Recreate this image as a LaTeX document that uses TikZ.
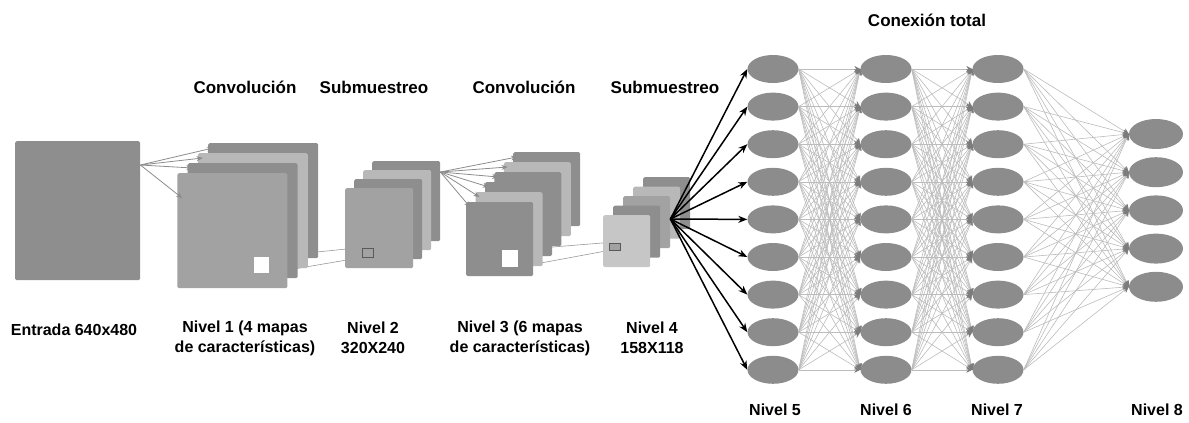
\documentclass[tikz,border=0pt]{standalone}
\usepackage{fontspec}
\setmainfont{Liberation Sans}
\usetikzlibrary{shapes.geometric,arrows.meta,positioning}

\definecolor{mapdark}{HTML}{8E8E8E}
\definecolor{mapmid}{HTML}{A2A2A2}
\definecolor{maplight}{HTML}{B8B8B8}
\definecolor{mappale}{HTML}{C6C6C6}
\definecolor{neuron}{HTML}{8C8C8C}
\definecolor{wire}{HTML}{BCBCBC}
\definecolor{wiretip}{HTML}{7C7C7C}

\pgfdeclarelayer{background}
\pgfsetlayers{background,main}

\tikzset{
  mapa/.style={draw=none, inner sep=0pt, anchor=north west, rounded corners=1.5pt},
  ventana/.style={fill=white, inner sep=0pt},
  marco/.style={draw=black!65, fill=mapmid, line width=1pt, inner sep=0pt},
  neurona/.style={ellipse, fill=neuron, inner sep=0pt, minimum width=51, minimum height=28},
  salida/.style={neurona, minimum width=54, minimum height=30},
  flecha/.style={draw=black!45, line width=0.8pt, -{Stealth[length=6pt,width=5pt]}},
  enlace/.style={draw=black!40, line width=0.6pt},
  flechanegra/.style={draw=black, line width=1.5pt, -{Stealth[length=9pt,width=7pt]}},
  sinapsis/.style={draw=wire, line width=0.6pt, -{Stealth[length=6pt,width=6pt,color=wiretip]}},
  titulo/.style={font=\bfseries\fontsize{17}{20}\selectfont},
  etiqueta/.style={font=\bfseries\fontsize{16}{20}\selectfont, align=center}
}

\begin{document}
\begin{tikzpicture}[x=1pt, y=-1pt]
  \useasboundingbox (0,0) rectangle (1189,423);

  % entrada
  \node[mapa, fill=mapdark, minimum width=125, minimum height=139] (entrada) at (15,141) {};

  % nivel 1: 4 mapas
  \foreach \k/\c in {0/mapdark,1/maplight,2/mapdark,3/mapmid}
    \node[mapa, fill=\c, minimum width=110, minimum height=115] (n1-\k) at ({208-10.3*\k},{143+10*\k}) {};
  \node[ventana, minimum width=15, minimum height=16] (v1) at (261.5,265) {};

  % nivel 2: submuestreo
  \foreach \k/\c in {0/mapdark,1/maplight,2/mapdark,3/mapmid}
    \node[mapa, fill=\c, minimum width=68, minimum height=80] (n2-\k) at ({372-9*\k},{161+9*\k}) {};
  \node[marco, minimum width=11, minimum height=9] (s2) at (367.5,252.5) {};

  % nivel 3: 6 mapas
  \foreach \k/\c in {0/mapdark,1/maplight,2/mapdark,3/mapdark,4/maplight,5/mapdark}
    \node[mapa, fill=\c, minimum width=67, minimum height=74] (n3-\k) at ({513-9.4*\k},{152+10*\k}) {};
  \node[ventana, minimum width=16, minimum height=17] (v3) at (510,258.5) {};

  % nivel 4: submuestreo
  \foreach \k/\c in {0/mapdark,1/maplight,2/mapmid,3/mapdark,4/mappale}
    \node[mapa, fill=\c, minimum width=47, minimum height=52] (n4-\k) at ({643-10*\k},{177+9.5*\k}) {};
  \node[marco, minimum width=11, minimum height=7] (s4) at (614.5,246.5) {};

  % ventanas entre niveles (por detras)
  \begin{pgfonlayer}{background}
    \draw[enlace] (v1.north east) -- (s2.north west);
    \draw[enlace] (v1.south east) -- (s2.south west);
    \draw[enlace] (v3.north east) -- (s4.north west);
    \draw[enlace] (v3.south east) -- (s4.south west);
  \end{pgfonlayer}

  % convolucion 1
  \coordinate (e-out) at ([yshift=-24pt]entrada.north east);
  \foreach \k/\dy in {0/-5,1/-5,2/-5,3/-25}
    \draw[flecha] (e-out) -- ([shift={(5pt,\dy pt)}]n1-\k.north west);

  % convolucion 2
  \coordinate (n2-out) at ([yshift=-11pt]n2-0.north east);
  \foreach \k in {0,...,5}
    \draw[flecha] (n2-out) -- ([shift={(4pt,-5pt)}]n3-\k.north west);

  % conexion total
  \foreach \i in {0,...,8} {
    \node[neurona] (n5-\i) at (773,{69+37.6*\i}) {};
    \node[neurona] (n6-\i) at (886,{69+37.6*\i}) {};
    \node[neurona] (n7-\i) at (998,{69+37.6*\i}) {};
  }
  \foreach \j in {0,...,4}
    \node[salida] (n8-\j) at (1156,{134+38.2*\j}) {};

  \coordinate (hub) at ([yshift=-23pt]n4-2.north east);
  \foreach \i in {0,...,8}
    \draw[flechanegra] (hub) -- (n5-\i.west);

  \foreach \i in {0,...,8}
    \foreach \j in {0,...,8} {
      \draw[sinapsis] (n5-\i.east) -- (n6-\j.west);
      \draw[sinapsis] (n6-\i.east) -- (n7-\j.west);
    }
  \foreach \i in {0,...,8}
    \foreach \j in {0,...,4}
      \draw[sinapsis] (n7-\i.east) -- (n8-\j.west);

  % textos
  \node[titulo] (t1) at (245,87) {Convolución};
  \node[titulo] (t2) at (374,87) {Submuestreo};
  \node[titulo] (t3) at (524,87) {Convolución};
  \node[titulo] (t4) at (665,87) {Submuestreo};
  \node[titulo] (t5) at (927,20) {Conexión total};

  \node[etiqueta] (l0) at (74,330) {Entrada 640x480};
  \node[etiqueta] (l1) at (245,338) {Nivel 1 (4 mapas\\de características)};
  \node[etiqueta] (l2) at (373,338) {Nivel 2\\320X240};
  \node[etiqueta] (l3) at (520,338) {Nivel 3 (6 mapas\\de características)};
  \node[etiqueta] (l4) at (652,338) {Nivel 4\\158X118};
  \node[etiqueta] (l5) at (775,410) {Nivel 5};
  \node[etiqueta] (l6) at (886,410) {Nivel 6};
  \node[etiqueta] (l7) at (997,410) {Nivel 7};
  \node[etiqueta] (l8) at (1157,410) {Nivel 8};
\end{tikzpicture}
\end{document}
